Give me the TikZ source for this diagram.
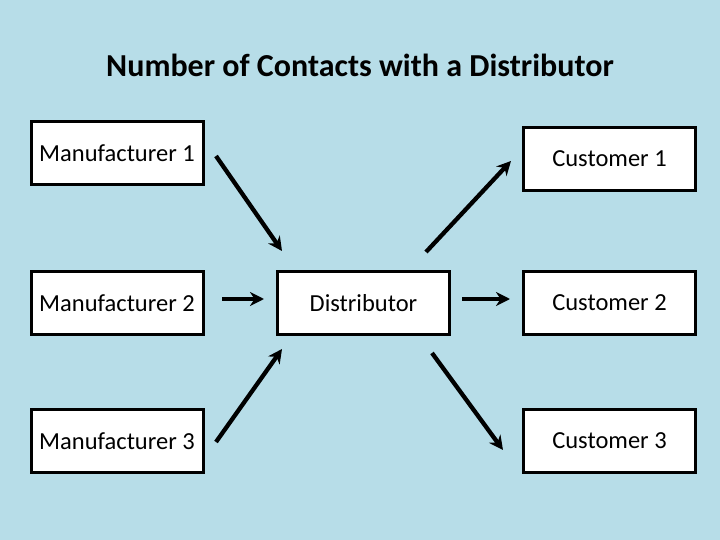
\documentclass[tikz,border=0pt]{standalone}
\usepackage{fontspec}
\setmainfont{Carlito}
\usetikzlibrary{arrows.meta,positioning}
\definecolor{bgblue}{RGB}{183,221,232}

\begin{document}
\begin{tikzpicture}[x=1pt,y=-1pt,
  box/.style={draw=black,line width=3pt,fill=white,minimum width=172pt,minimum height=63pt,inner sep=0pt,font=\fontsize{24.5}{28}\selectfont},
  flow/.style={-{Stealth[length=14pt,width=14pt]},line width=4.3pt}]
  % Background
  \fill[bgblue] (0,0) rectangle (720,540);
  \useasboundingbox (0,0) rectangle (720,540);
  \node[font=\fontsize{32}{38}\selectfont\bfseries] (title) at (360,65) {Number of Contacts with a Distributor};
  % Left: manufacturers
  \node[box] (m1) at (117,153) {Manufacturer 1};
  \node[box] (m2) at (117,303) {Manufacturer 2};
  \node[box] (m3) at (117,441) {Manufacturer 3};
  % Middle: distributor
  \node[box] (dist) at (363.5,303) {Distributor};
  % Right: customers
  \node[box] (c1) at (609.5,159) {Customer 1};
  \node[box] (c2) at (609.5,303) {Customer 2};
  \node[box] (c3) at (609.5,441) {Customer 3};
  % Arrow ends
  \coordinate (m1out) at (216,156);
  \coordinate (m1in) at (282,251);
  \coordinate (m2out) at (222,299);
  \coordinate (m2in) at (264,299);
  \coordinate (m3out) at (216,442);
  \coordinate (m3in) at (282,349);
  \coordinate (c1out) at (426,252);
  \coordinate (c1in) at (511,161);
  \coordinate (c2out) at (462,299);
  \coordinate (c2in) at (510,299);
  \coordinate (c3out) at (432,353);
  \coordinate (c3in) at (503,450);
  % Arrows
  \draw[flow] (m1out) -- (m1in);
  \draw[flow] (m2out) -- (m2in);
  \draw[flow] (m3out) -- (m3in);
  \draw[flow] (c1out) -- (c1in);
  \draw[flow] (c2out) -- (c2in);
  \draw[flow] (c3out) -- (c3in);
\end{tikzpicture}
\end{document}
